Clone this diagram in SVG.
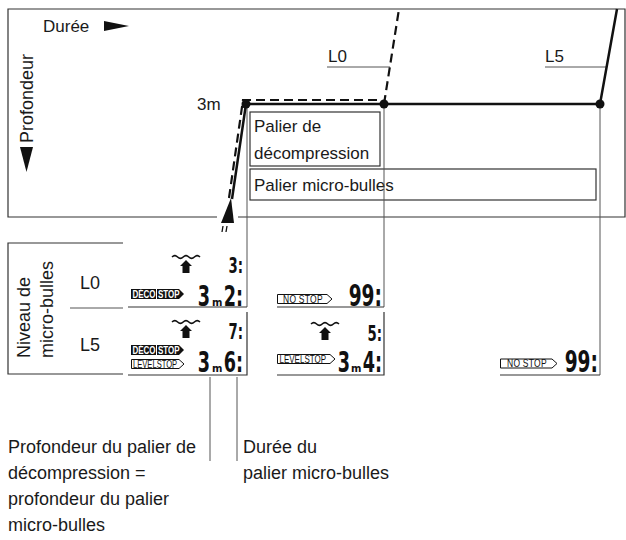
<svg xmlns="http://www.w3.org/2000/svg" width="626" height="540" viewBox="0 0 626 540">
<style>
.t{font-family:"Liberation Sans",Arial,sans-serif;font-size:17px;fill:#1a1a1a}
.tb{font-family:"Liberation Sans",Arial,sans-serif;font-size:18px;fill:#1a1a1a}
.thin{fill:none;stroke:#555;stroke-width:1}
.frame{fill:none;stroke:#333;stroke-width:1.2}
.prof{fill:none;stroke:#111;stroke-width:2.5}
.dash{fill:none;stroke:#111;stroke-width:2.2;stroke-dasharray:9 5}
.dig{font-family:"DejaVu Sans","Liberation Sans",sans-serif;font-weight:bold;fill:#111}
.lab{font-family:"Liberation Sans",Arial,sans-serif;font-size:10px;font-weight:bold;fill:#fff}
.labn{font-family:"Liberation Sans",Arial,sans-serif;font-size:10px;fill:#111}
.lfill{fill:#111}
.lout{fill:#fff;stroke:#111;stroke-width:1}
</style>
<defs>
<g id="surf">
<path d="M-14,0 q2.8,-2.6 5.6,0 t5.6,0 t5.6,0 t5.6,0 t5.6,0" fill="none" stroke="#111" stroke-width="1.6"/>
<polygon points="0,3 -6,9 -3.5,9 -3.5,16 3.5,16 3.5,9 6,9" fill="#111"/>
</g>
</defs>

<!-- top profile frame -->
<g id="frame">
<path class="frame" d="M217,217 H8 V9 H625 V217 H238"/>
</g>

<g id="axis-duree">
<text class="t" x="43" y="32">Durée</text>
<polygon points="104,21 129,26 104,31" fill="#111"/>
</g>
<g id="axis-profondeur">
<text class="tb" transform="translate(33,143) rotate(-90)">Profondeur</text>
<polygon points="20,147 33,147 26.5,172" fill="#111"/>
</g>

<g id="label-3m"><text class="t" x="197" y="110">3m</text></g>

<g id="box-deco">
<rect class="frame" x="250" y="112" width="130" height="54"/>
<text class="t" x="254" y="132">Palier de</text>
<text class="t" x="254" y="159">décompression</text>
</g>
<g id="box-micro">
<rect class="frame" x="250" y="169" width="346" height="31"/>
<text class="t" x="254" y="191">Palier micro-bulles</text>
</g>

<g id="label-L0">
<text class="t" x="328" y="62">L0</text>
<line class="thin" x1="327" y1="67" x2="390" y2="67"/>
</g>
<g id="label-L5">
<text class="t" x="545" y="62">L5</text>
<line class="thin" x1="545" y1="67" x2="607" y2="67"/>
</g>

<!-- connectors / profiles -->
<g id="connectors">
<line class="thin" x1="247" y1="104" x2="247" y2="307"/>
<line class="thin" x1="384" y1="104" x2="384" y2="307"/>
<line class="thin" x1="600" y1="104" x2="600" y2="375"/>
<path class="prof" d="M232,199 L246,104 L600,104 L617,9"/>
<path class="dash" d="M229,198 L243,100 L380,100"/>
<path class="dash" d="M384,104 L399,9"/>
<polygon points="231,198 221,223 234,223" fill="#111"/>
<line x1="223" y1="226" x2="222" y2="232" stroke="#111" stroke-width="1.3"/>
<line x1="227" y1="226" x2="226" y2="232" stroke="#111" stroke-width="1.3"/>
<circle cx="246" cy="104" r="4.5" fill="#111"/>
<circle cx="384" cy="104" r="4.5" fill="#111"/>
<circle cx="600" cy="104" r="4.5" fill="#111"/>
<line class="thin" x1="210" y1="377" x2="210" y2="461"/>
<line class="thin" x1="237" y1="377" x2="237" y2="461"/>
</g>

<!-- left table -->
<g id="table">
<path class="frame" d="M123,243 H8 V374 H123"/>
<line class="thin" x1="70" y1="308" x2="123" y2="308"/>
<text class="tb" transform="translate(30,358) rotate(-90)">Niveau de</text>
<text class="tb" transform="translate(53,358) rotate(-90)">micro-bulles</text>
<text class="tb" x="80" y="289">L0</text>
<text class="tb" x="80" y="351">L5</text>
</g>

<!-- LCD L0 deco -->
<g id="lcd-L0-deco">
<path class="frame" d="M128,307 H247"/>
<use href="#surf" x="186" y="257"/>
<text class="dig" font-size="21" text-anchor="end" transform="translate(243,273) scale(0.63,1)">3:</text>
<path class="lfill" d="M131,289 H179 L184,294 L179,299 H131 Z"/>
<text class="lab" transform="translate(132.5,298) scale(0.8,1)">DÉCO</text>
<line x1="156.5" y1="288" x2="156.5" y2="299" stroke="#fff" stroke-width="1"/>
<text class="lab" transform="translate(158,298) scale(0.8,1)">STOP</text>
<text class="dig" font-size="28" text-anchor="middle" transform="translate(204,306) scale(0.63,1)">3</text>
<text class="dig" font-size="10" x="212" y="306">m</text>
<text class="dig" font-size="28" text-anchor="end" transform="translate(243,306) scale(0.63,1)">2:</text>
</g>

<!-- LCD L5 deco -->
<g id="lcd-L5-deco">
<path class="frame" d="M247,312 V375 H128"/>
<use href="#surf" x="186" y="322"/>
<text class="dig" font-size="21" text-anchor="end" transform="translate(243,339) scale(0.63,1)">7:</text>
<path class="lfill" d="M131,345 H179 L184,350 L179,355 H131 Z"/>
<text class="lab" transform="translate(132.5,354) scale(0.8,1)">DÉCO</text>
<line x1="156.5" y1="344" x2="156.5" y2="355" stroke="#fff" stroke-width="1"/>
<text class="lab" transform="translate(158,354) scale(0.8,1)">STOP</text>
<path class="lout" d="M131.5,359.5 H179 L184,364 L179,368.5 H131.5 Z"/>
<text class="labn" transform="translate(133,367.5) scale(0.76,1)">LEVELSTOP</text>
<text class="dig" font-size="28" text-anchor="middle" transform="translate(204,372) scale(0.63,1)">3</text>
<text class="dig" font-size="10" x="212" y="372">m</text>
<text class="dig" font-size="28" text-anchor="end" transform="translate(243,372) scale(0.63,1)">6:</text>
</g>

<!-- LCD L0 no stop -->
<g id="lcd-L0-nostop">
<path class="frame" d="M277,307 H384"/>
<path class="lout" d="M277.5,294.5 H327 L332,299 L327,303.5 H277.5 Z"/>
<text class="labn" transform="translate(283,302.5) scale(0.85,1)" letter-spacing="0.3">NO STOP</text>
<text class="dig" font-size="31" text-anchor="end" transform="translate(382,306) scale(0.6,1)">99:</text>
</g>

<!-- LCD L5 levelstop -->
<g id="lcd-L5-level">
<path class="frame" d="M384,312 V375 H277"/>
<use href="#surf" x="325" y="324"/>
<text class="dig" font-size="21" text-anchor="end" transform="translate(382,341) scale(0.63,1)">5:</text>
<path class="lout" d="M277.5,354.5 H330 L335,359 L330,363.5 H277.5 Z"/>
<text class="labn" transform="translate(279.5,362.5) scale(0.8,1)">LEVELSTOP</text>
<text class="dig" font-size="28" text-anchor="middle" transform="translate(344,372) scale(0.63,1)">3</text>
<text class="dig" font-size="10" x="351" y="372">m</text>
<text class="dig" font-size="28" text-anchor="end" transform="translate(382,372) scale(0.63,1)">4:</text>
</g>

<!-- LCD L5 no stop -->
<g id="lcd-L5-nostop">
<path class="frame" d="M500,375 H600"/>
<path class="lout" d="M500.5,359 H552 L557,363.5 L552,368 H500.5 Z"/>
<text class="labn" transform="translate(507,367) scale(0.85,1)" letter-spacing="0.3">NO STOP</text>
<text class="dig" font-size="31" text-anchor="end" transform="translate(598,372) scale(0.6,1)">99:</text>
</g>

<!-- annotations -->
<g id="note-depth">
<text class="tb" x="8" y="453">Profondeur du palier de</text>
<text class="tb" x="8" y="479">décompression =</text>
<text class="tb" x="8" y="505">profondeur du palier</text>
<text class="tb" x="8" y="531">micro-bulles</text>
</g>
<g id="note-duration">
<text class="tb" x="243" y="453">Durée du</text>
<text class="tb" x="243" y="479">palier micro-bulles</text>
</g>
</svg>
